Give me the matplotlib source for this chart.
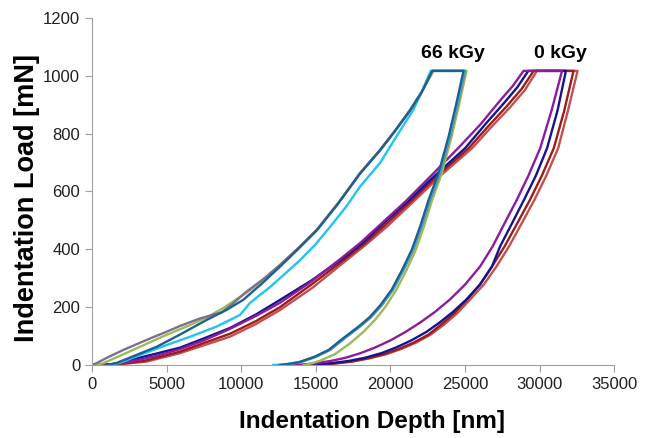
import matplotlib.pyplot as plt

plt.rcParams['font.family'] = ['Liberation Sans', 'DejaVu Sans']

# ---- 66 kGy curves: depth [nm] / load [mN] (loading, hold, unloading) ----
grey66_depth = [0, 300, 1000, 2100, 3000, 4000, 5000, 6000, 7240, 8000, 8700, 9500, 10370, 11500,
                12600, 13800, 15060, 16500, 17970, 19310, 20300, 21320, 22100, 22800,
                25000, 24500, 24000, 23330, 22660, 22100, 21530, 20850, 20180, 19400, 18700,
                17970, 17000, 15960, 15000, 14000, 13300, 12900]
grey66_load = [0, 6, 25, 52, 72, 94, 115, 137, 161, 172, 182, 215, 254, 298,
               346, 403, 467, 560, 664, 744, 810, 882, 945, 1017,
               1017, 900, 790, 664, 571, 480, 398, 325, 260, 205, 165,
               133, 95, 52, 28, 10, 3, 0]

olive66_depth = [0, 700, 1800, 3220, 4800, 6570, 7700, 8800, 9700, 10600, 11600, 12600, 13800,
                 15060, 16500, 17970, 19310, 20300, 21320, 22100, 22900,
                 25100, 24600, 24100, 23450, 22800, 22250, 21700, 21050, 20400, 19650, 18950,
                 18200, 17300, 16300, 15300, 14600, 14200]
olive66_load = [0, 5, 30, 63, 100, 138, 165, 197, 228, 259, 300, 346, 403,
                467, 560, 664, 744, 810, 882, 945, 1017,
                1017, 900, 790, 664, 571, 480, 398, 325, 260, 200, 155,
                115, 75, 38, 15, 4, 0]

teal66_depth = [1000, 1650, 3000, 4340, 6000, 7690, 9000, 10130, 11400, 12600, 13800, 15060,
                16500, 17970, 19310, 20300, 21320, 22100, 22800,
                24900, 24400, 23900, 23230, 22560, 22000, 21430, 20750, 20080, 19300, 18600,
                17870, 16900, 15860, 14900, 13900, 13100, 12600]
teal66_load = [0, 7, 35, 63, 108, 156, 190, 225, 282, 340, 400, 465,
               558, 662, 742, 808, 880, 943, 1017,
               1017, 900, 790, 664, 571, 480, 398, 325, 260, 205, 165,
               133, 95, 52, 28, 10, 3, 0]

cyan66_depth = [1200, 1850, 3500, 5000, 6700, 8360, 9920, 10600, 11200, 11900, 12600, 13950,
                15000, 15960, 17000, 17970, 19310, 20400, 21530, 22100, 22700,
                24950, 24450, 23950, 23280, 22610, 22050, 21480, 20800, 20130, 19350, 18650,
                17920, 16950, 15900, 14900, 13800, 12900, 12150]
cyan66_load = [0, 7, 40, 69, 100, 133, 173, 215, 240, 268, 300, 363,
               418, 478, 545, 617, 699, 790, 882, 945, 1017,
               1017, 900, 790, 664, 571, 480, 398, 325, 260, 205, 165,
               133, 95, 52, 27, 9, 2, 0]

# ---- 0 kGy curves ----
purple0_depth = [0, 1200, 2600, 4200, 5900, 7500, 9250, 11000, 12600, 14600, 16630, 18000,
                 19310, 21000, 22660, 24540, 26000, 27360, 28200, 28920,
                 31500, 30800, 30040, 29250, 28470, 27650, 26850, 26000, 25000, 24000, 23000,
                 22000, 21000, 20000, 19000, 18000, 17000, 16000, 15000, 14000, 13400]
purple0_load = [0, 2, 12, 30, 55, 85, 125, 170, 215, 285, 366, 423,
                485, 565, 651, 750, 830, 915, 965, 1017,
                1017, 880, 750, 655, 571, 490, 410, 340, 278, 227, 184,
                147, 114, 85, 61, 41, 25, 14, 6, 1, 0]

navy0_depth = [0, 1500, 2550, 4200, 5900, 7500, 9250, 11000, 12600, 14700, 16800, 18200,
               19500, 21200, 22900, 25010, 26400, 27600, 28500, 29240,
               31760, 31200, 30500, 29750, 28950, 28150, 27350, 26800, 26000, 25100, 24200,
               23300, 22400, 21400, 20400, 19400, 18300, 17200, 16000, 14900, 14200]
navy0_load = [0, 3, 17, 38, 60, 92, 128, 175, 225, 292, 368, 425,
              488, 567, 651, 750, 835, 905, 960, 1017,
              1017, 880, 750, 655, 571, 490, 410, 340, 278, 227, 184,
              147, 114, 85, 61, 41, 25, 14, 6, 1, 0]

red0_depth = [0, 1800, 3500, 5900, 7500, 9250, 11000, 12600, 14700, 16900, 18300, 19650,
              21350, 23100, 25250, 26600, 27800, 28800, 29600,
              32270, 31650, 30950, 30150, 29350, 28500, 27650, 26800, 26000, 25150, 24300,
              23400, 22550, 21550, 20550, 19550, 18450, 17350, 16150, 15000, 14600]
red0_load = [0, 3, 14, 46, 76, 108, 152, 200, 278, 364, 421, 484,
             565, 652, 750, 828, 895, 955, 1017,
             1017, 880, 750, 655, 571, 490, 410, 340, 278, 227, 180,
             140, 105, 77, 55, 37, 23, 12, 5, 1, 0]

rose0_depth = [0, 2000, 3670, 5900, 7500, 9250, 11000, 12600, 14800, 17000, 18400, 19800,
               21500, 23300, 25480, 26800, 28000, 29000, 29820,
               32540, 31900, 31245, 30450, 29650, 28800, 27950, 27100, 26250, 25350, 24500,
               23600, 22700, 21700, 20700, 19700, 18600, 17500, 16300, 15200, 14800]
rose0_load = [0, 3, 12, 41, 68, 98, 142, 190, 268, 360, 418, 480,
              563, 652, 750, 825, 890, 950, 1017,
              1017, 880, 750, 655, 571, 490, 410, 340, 278, 227, 180,
              140, 105, 77, 55, 37, 23, 12, 5, 1, 0]

fig = plt.figure(figsize=(6.5, 4.38), dpi=100)
ax = fig.add_axes([0.1415, 0.1667, 0.8035, 0.7923])

lw = 1.7
ax.plot(rose0_depth, rose0_load, color='#c4504e', lw=lw)
ax.plot(red0_depth, red0_load, color='#9c1c1c', lw=lw)
ax.plot(navy0_depth, navy0_load, color='#14148c', lw=lw)
ax.plot(purple0_depth, purple0_load, color='#8e1a9e', lw=lw)

ax.plot(olive66_depth, olive66_load, color='#9bbb59', lw=lw)
ax.plot(grey66_depth, grey66_load, color='#7f6f8f', lw=lw)
ax.plot(cyan66_depth, cyan66_load, color='#22c4ee', lw=lw)
ax.plot(teal66_depth, teal66_load, color='#1f5f8f', lw=lw)

ax.set_xlim(0, 35000)
ax.set_ylim(0, 1200)
ax.set_xticks(range(0, 35001, 5000))
ax.set_yticks(range(0, 1201, 200))
ax.tick_params(direction='out', length=5, color='#a0a0a0', labelsize=12, labelcolor='#202020')
for side in ['top', 'right']:
    ax.spines[side].set_visible(False)
for side in ['left', 'bottom']:
    ax.spines[side].set_color('#a0a0a0')

ax.set_xlabel('Indentation Depth [nm]', fontsize=17.5, fontweight='bold')
ax.set_ylabel('Indentation Load [mN]', fontsize=19.5, fontweight='bold')
ax.xaxis.set_label_coords(0.536, -0.13)
ax.yaxis.set_label_coords(-0.10, 0.48)

ax.text(24200, 1060, '66 kGy', fontsize=14, fontweight='bold', ha='center', va='baseline')
ax.text(31400, 1060, '0 kGy', fontsize=14, fontweight='bold', ha='center', va='baseline')

plt.savefig('out.png')
